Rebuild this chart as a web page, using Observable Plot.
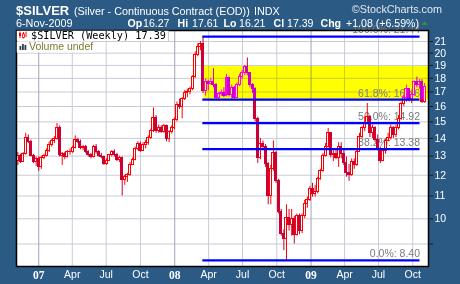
<!DOCTYPE html>
<html><head><meta charset="utf-8">
<script src="https://cdn.jsdelivr.net/npm/d3@7"></script>
<script src="https://cdn.jsdelivr.net/npm/@observablehq/plot@0.6"></script>
<style>html,body{margin:0;padding:0;background:#2b5a85;overflow:hidden}</style>
</head><body>
<script>
// ---- data: weekly candles for $SILVER, first week starting Monday 2006-11-06
const firstWeek = "2006-11-06";
const open = [12.75,13.0,12.7,13.1,14.05,13.8,13.0,12.7,12.85,12.4,12.9,13.0,13.3,13.6,13.85,13.95,14.6,13.0,13.1,12.95,13.2,13.25,13.45,13.9,13.8,13.45,13.5,13.2,13.05,12.95,13.5,13.2,13.0,12.95,12.6,12.75,13.05,13.2,13.05,12.8,12.9,11.75,11.9,12.0,12.55,12.8,13.4,13.7,13.3,13.6,13.75,14.05,14.45,15.25,14.45,14.6,14.4,14.75,13.95,14.35,14.65,15.1,16.1,15.95,16.5,16.9,17.0,17.25,18.1,19.85,20.55,20.75,17.1,17.7,17.6,17.75,17.5,16.6,16.85,16.95,16.7,18.05,16.8,17.3,16.6,17.5,18.1,18.4,18.85,18.4,17.5,17.2,15.2,12.9,13.7,13.5,12.6,11.0,12.3,13.15,11.7,10.3,9.4,9.2,10.05,9.75,10.0,9.35,10.1,9.5,10.1,10.65,10.8,11.35,11.1,11.2,11.8,12.2,13.0,13.5,14.3,13.05,13.1,12.9,13.5,13.1,12.65,12.1,12.0,12.7,12.5,13.25,14.1,14.6,14.95,15.3,14.3,14.65,13.9,13.4,12.75,13.3,13.85,14.0,14.6,14.2,14.6,15.2,16.15,16.6,17.2,16.5,16.8,17.7,17.5,17.7,16.27];
const high = [13.2,13.1,13.2,14.3,14.2,13.9,13.1,12.95,12.95,13.0,13.1,13.4,13.8,13.95,14.1,14.9,14.75,13.2,13.2,13.3,13.4,13.55,14.15,14.0,13.9,13.6,13.6,13.3,13.15,13.6,13.65,13.3,13.15,13.0,12.85,13.1,13.3,13.35,13.15,13.0,12.95,12.0,12.1,12.65,12.9,13.5,13.8,13.8,13.75,13.9,14.15,14.55,15.9,15.4,14.8,14.75,14.85,14.8,14.45,14.75,15.25,16.3,16.5,16.6,17.1,17.2,17.35,18.2,20.1,20.8,21.0,21.44,17.95,17.85,18.0,18.75,17.6,16.95,17.15,17.3,18.3,18.1,17.5,17.4,17.65,18.3,18.6,19.0,19.6,18.45,17.6,17.3,15.3,14.0,13.85,13.65,12.65,12.5,13.85,13.25,11.8,10.4,9.55,10.6,10.4,10.4,10.1,10.2,10.2,10.2,10.8,10.95,11.45,11.6,11.5,11.9,12.3,13.15,13.7,14.6,14.35,13.3,13.35,13.75,13.75,13.3,12.95,12.55,12.85,12.85,13.4,14.3,14.7,15.3,16.2,15.4,14.8,14.7,14.2,13.5,13.4,13.95,14.3,14.8,14.7,14.8,15.4,16.3,16.8,17.5,17.25,17.0,17.8,18.1,17.9,17.9,17.61];
const low = [12.5,12.6,12.65,13.05,13.7,12.95,12.6,12.45,12.2,12.3,12.8,12.95,13.2,13.5,13.7,13.9,12.95,12.5,12.8,12.9,13.05,13.15,13.4,13.7,13.35,13.3,13.15,12.95,12.85,12.9,13.1,12.95,12.85,12.5,12.5,12.7,12.95,12.95,12.7,12.65,11.0,11.5,11.65,11.95,12.5,12.75,13.3,13.2,13.25,13.4,13.6,13.95,14.35,14.3,14.3,14.3,14.3,13.8,13.75,14.25,14.5,15.0,15.8,15.2,16.4,16.6,16.8,17.1,18.0,19.7,20.2,16.9,16.7,17.1,17.5,17.3,16.5,16.35,16.7,16.6,16.65,16.65,16.5,16.5,16.55,17.4,17.9,18.2,18.2,17.3,16.9,15.0,12.6,12.8,13.3,12.4,10.6,10.6,12.2,11.6,10.2,9.3,8.75,8.40,9.5,9.3,9.0,9.3,9.35,9.4,10.0,10.45,10.75,10.95,10.95,11.1,11.75,12.15,12.95,13.45,12.9,12.7,12.8,12.4,12.85,12.5,11.9,11.7,11.95,12.3,12.45,13.2,14.0,14.4,14.85,14.05,14.0,13.75,13.3,12.6,12.7,13.1,13.8,13.9,14.0,14.05,14.5,15.1,16.0,16.3,16.3,16.2,16.7,17.3,17.2,16.2,16.21];
const close = [13.0,12.7,13.1,14.05,13.8,13.0,12.7,12.85,12.4,12.9,13.0,13.3,13.6,13.85,13.95,14.6,13.05,13.1,12.95,13.2,13.25,13.45,13.9,13.8,13.45,13.5,13.2,13.05,12.95,13.5,13.2,13.0,12.95,12.6,12.75,13.05,13.2,13.05,12.8,12.9,11.75,11.9,12.0,12.55,12.8,13.4,13.7,13.3,13.6,13.75,14.05,14.45,15.25,14.45,14.6,14.4,14.75,13.95,14.35,14.65,15.1,16.1,15.95,16.5,16.9,17.0,17.25,18.1,19.85,20.55,20.75,17.1,17.7,17.6,17.75,17.5,16.6,16.85,16.95,16.7,18.05,16.8,17.3,16.6,17.5,18.1,18.4,18.85,18.4,17.5,17.2,15.2,12.9,13.7,13.5,12.6,11.0,12.3,13.15,11.7,10.3,9.4,9.2,10.05,9.75,10.0,9.35,10.1,9.5,10.1,10.65,10.8,11.35,11.1,11.2,11.8,12.2,13.0,13.5,14.3,13.05,13.1,12.9,13.5,13.1,12.65,12.1,12.0,12.7,12.5,13.25,14.1,14.6,14.95,15.3,14.3,14.65,13.9,13.4,12.75,13.3,13.85,14.0,14.6,14.2,14.6,15.2,16.15,16.6,17.2,16.5,16.8,17.7,17.5,17.75,16.31,17.39];

// Fibonacci retracement drawn from the March 2008 high to the October 2008 low
const fibPct   = ["100.0%", "61.8%", "50.0%", "38.2%", "0.0%"];
const fibLevel = [21.44, 16.46, 14.92, 13.38, 8.40];
const fibStart = "2008-03-16T12:00Z";
const fibEnd   = "2009-10-20T12:00Z";
const zoneStart = "2008-03-19T00:00Z";
const zoneLow = 16.46, zoneHigh = 18.92;

const yTicks = [9,10,11,12,13,14,15,16,17,18,19,20,21];
const monthTickDates  = ["2007-04-01","2007-07-01","2007-10-01","2008-04-01","2008-07-01","2008-10-01","2009-04-01","2009-07-01","2009-10-01"];
const monthTickLabels = ["Apr","Jul","Oct","Apr","Jul","Oct","Apr","Jul","Oct"];
const yearTickDates   = ["2007-01-01","2008-01-01","2009-01-01"];
const yearTickLabels  = ["07","08","09"];

// ---- build tables
const t0 = new Date(firstWeek + "T00:00Z");
const weeks = close.map((c, i) => ({
  date: d3.utcDay.offset(t0, 7 * i),
  open: open[i], high: high[i], low: low[i], close: c
}));
const up = weeks.filter(d => d.close >= d.open);
const down = weeks.filter(d => d.close < d.open);
const fib = fibPct.map((p, i) => ({pct: p, level: fibLevel[i], label: `${p}: ${fibLevel[i].toFixed(2)}`}));
const monthTicks = monthTickDates.map(s => new Date(s + "T00:00Z"));
const yearTicks = yearTickDates.map(s => new Date(s + "T00:00Z"));
const tickLabel = new Map([
  ...monthTicks.map((d, i) => [+d, monthTickLabels[i]]),
  ...yearTicks.map((d, i) => [+d, yearTickLabels[i]])
]);
const xDomain = [new Date("2006-11-02T05:45Z"), new Date("2009-11-12T07:00Z")];

const UP = "#ff0000", DOWN = "#cc0033";
const half = 64; // hours each side of a candle's date
const bx1 = d => d3.utcHour.offset(d.date, -half);
const bx2 = d => d3.utcHour.offset(d.date, half);

const chart = Plot.plot({
  width: 460, height: 284,
  marginLeft: 16, marginRight: 32, marginTop: 30, marginBottom: 18,
  x: {type: "utc", domain: xDomain},
  y: {type: "log", domain: [8.19, 21.99]},
  style: {background: "#2b5a85", fontFamily: "Liberation Sans, Arial, sans-serif", fontSize: "11px"},
  marks: [
    Plot.frame({fill: "white"}),
    Plot.gridY(yTicks, {stroke: "#c9cbd6", strokeOpacity: 1}),
    Plot.gridX(monthTicks, {stroke: "#c9cbd6", strokeOpacity: 1}),
    Plot.gridX(yearTicks, {stroke: "#9ea6b6", strokeOpacity: 1}),
    Plot.text(fib, {x: () => new Date(fibEnd), y: "level", text: "label", textAnchor: "end", dy: -6.5,
      fill: "#7a7a7a", fontSize: 10.5}),
    Plot.ruleX(up, {x: "date", y1: "low", y2: "high", stroke: UP}),
    Plot.ruleX(down, {x: "date", y1: "low", y2: "high", stroke: DOWN}),
    Plot.rect(up, {x1: bx1, x2: bx2, y1: "open", y2: "close", fill: "white", stroke: UP, shapeRendering: "crispEdges"}),
    Plot.rect(down, {x1: bx1, x2: bx2, y1: "open", y2: "close", fill: DOWN, stroke: DOWN, shapeRendering: "crispEdges"}),
    Plot.rect([{}], {x1: () => new Date(zoneStart), x2: () => xDomain[1], y1: () => zoneLow, y2: () => zoneHigh,
      fill: "#0000ff", mixBlendMode: "difference"}),
    Plot.ruleY(fib, {y: "level", x1: () => new Date(fibStart), x2: () => new Date(fibEnd), stroke: "#0000ff", strokeWidth: 2.2}),
    Plot.frame({stroke: "#000", strokeWidth: 1.5}),
    Plot.axisY(yTicks, {anchor: "right", label: null, tickSize: 4, tickPadding: 2, stroke: "#10202f",
      fill: "white", fontSize: 10.5, tickFormat: d => String(d)}),
    Plot.axisX(monthTicks, {anchor: "bottom", label: null, tickSize: 0, tickPadding: 4,
      fill: "white", fontSize: 10.5, tickFormat: d => tickLabel.get(+d)}),
    Plot.axisX(yearTicks, {anchor: "bottom", label: null, tickSize: 0, tickPadding: 4,
      fill: "white", fontSize: 11.5, fontWeight: "bold", fontFamily: "Liberation Serif, serif", tickFormat: d => tickLabel.get(+d)})
  ]
});
document.body.appendChild(chart);

// ---- header and legend
const svg = d3.select(chart);
const hdr = svg.append("g").attr("font-family", "Liberation Sans, Arial, sans-serif").attr("fill", "white")
  .attr("text-anchor", "start");
hdr.append("text").attr("x", 16).attr("y", 15).attr("font-size", 13).attr("font-weight", "bold").text("$SILVER");
hdr.append("text").attr("x", 74).attr("y", 14.5).attr("font-size", 10.8).text("(Silver - Continuous Contract (EOD))");
hdr.append("text").attr("x", 254).attr("y", 14.5).attr("font-size", 10.8).text("INDX");
hdr.append("text").attr("x", 442).attr("y", 13).attr("font-size", 10.8).attr("text-anchor", "end").attr("fill", "#e4e8ee").text("\u00A9StockCharts.com");
hdr.append("text").attr("x", 16).attr("y", 26.5).attr("font-size", 10.8).text("6-Nov-2009");
const quote = [
  ["Op", 127.5, true], ["16.27", 143, false], ["Hi", 177.5, true], ["17.61", 192, false],
  ["Lo", 223.5, true], ["16.21", 239, false], ["Cl", 273.5, true], ["17.39", 287, false],
  ["Chg", 320.5, true], ["+1.08 (+6.59%)", 346, false]
];
for (const [t, x, b] of quote) {
  hdr.append("text").attr("x", x).attr("y", 26.8).attr("font-size", 10.6)
    .attr("font-weight", b ? "bold" : "normal").text(t);
}
hdr.append("path").attr("d", "M421.5,25 L424.5,21 L427.5,25 Z").attr("fill", "#3c8c3c");

// legend boxes
const lg = svg.append("g").attr("text-anchor", "start");
lg.append("rect").attr("x", 16.75).attr("y", 30.75).attr("width", 151.5).attr("height", 10).attr("fill", "white");
lg.append("line").attr("x1", 168.5).attr("x2", 168.5).attr("y1", 30.75).attr("y2", 41).attr("stroke", "#c9cbd6");
lg.append("rect").attr("x", 16.75).attr("y", 41.5).attr("width", 76).attr("height", 11).attr("fill", "white");
// candle icon
lg.append("line").attr("x1", 20).attr("x2", 20).attr("y1", 31.5).attr("y2", 38).attr("stroke", UP);
lg.append("rect").attr("x", 19).attr("y", 33).attr("width", 2).attr("height", 3).attr("fill", UP);
lg.append("line").attr("x1", 23.5).attr("x2", 23.5).attr("y1", 32).attr("y2", 38.5).attr("stroke", UP);
lg.append("rect").attr("x", 22.5).attr("y", 34).attr("width", 2).attr("height", 3.5).attr("fill", "white").attr("stroke", UP).attr("stroke-width", 0.8);
lg.append("line").attr("x1", 26).attr("x2", 26).attr("y1", 31.5).attr("y2", 37).attr("stroke", UP);
lg.append("text").attr("x", 31).attr("y", 38.5).attr("font-family", "DejaVu Sans Mono, monospace").attr("font-size", 10.2)
  .attr("fill", "black").text("$SILVER (Weekly) 17.39");
// volume icon
[[19.5, 46, 4], [22, 44, 6], [24.5, 45, 5]].forEach(([x, y, h]) =>
  lg.append("rect").attr("x", x).attr("y", y).attr("width", 1.8).attr("height", h).attr("fill", "#2f3f50"));
lg.append("text").attr("x", 29).attr("y", 50).attr("font-family", "Liberation Sans, Arial, sans-serif").attr("font-size", 10.5)
  .attr("fill", "#7c7a2e").text("Volume undef");
</script>
</body></html>
